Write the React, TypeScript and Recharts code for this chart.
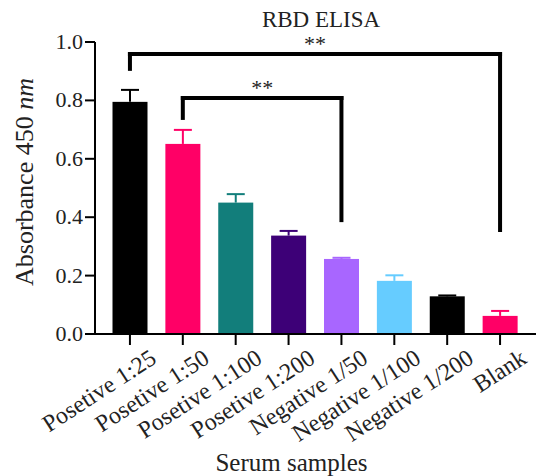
import { BarChart, Bar, XAxis, YAxis, ReferenceLine } from 'recharts'

const categories = [
    'Posetive 1:25',
    'Posetive 1:50',
    'Posetive 1:100',
    'Posetive 1:200',
    'Negative 1/50',
    'Negative 1/100',
    'Negative 1/200',
    'Blank',
]
const means = [0.795, 0.651, 0.45, 0.337, 0.257, 0.182, 0.129, 0.062]
const errors = [0.041, 0.048, 0.029, 0.016, 0.004, 0.019, 0.003, 0.017]
const yTicks = [0, 0.2, 0.4, 0.6, 0.8, 1.0]

// significance brackets: from / to category, bracket top, and where each leg stops
const brackets = [
    { from: 0, to: 7, top: 0.959, leftEnd: 0.908, rightEnd: 0.356, mark: '**' },
    { from: 1, to: 4, top: 0.808, leftEnd: 0.74, rightEnd: 0.39, mark: '**' },
]

const BAR_COLORS = ['#000000', '#FF0066', '#127E7B', '#3D0077', '#A866FF', '#66CCFF', '#000000', '#FF0066']
const FONT = '"Liberation Serif", "Times New Roman", serif'
const TEXT = '#222'

const data = categories.map((name, i) => ({ name, mean: means[i], err: errors[i] }))

function BarWithError(props: any) {
    const { x, y, width, height, index, payload } = props
    const color = BAR_COLORS[index]
    const errPx = payload.mean > 0 ? (payload.err * height) / payload.mean : 0
    const cx = x + width / 2
    return (
        <g>
            <line x1={cx} x2={cx} y1={y} y2={y - errPx} stroke={color} strokeWidth={2} />
            <line x1={cx - 9} x2={cx + 9} y1={y - errPx} y2={y - errPx} stroke={color} strokeWidth={2} />
            <rect x={x} y={y} width={width} height={height} fill={color} />
        </g>
    )
}

function XTick({ x, y, payload }: any) {
    const ax = x + 28
    const ay = y + 17
    return (
        <text
            x={ax}
            y={ay}
            textAnchor="end"
            transform={`rotate(-33 ${ax} ${ay})`}
            fontSize={24}
            fontFamily={FONT}
            fill={TEXT}
        >
            {payload.value}
        </text>
    )
}

function YTick({ x, y, payload }: any) {
    return (
        <text x={x} y={y + 7} textAnchor="end" fontSize={22} fontFamily={FONT} fill={TEXT}>
            {payload.value.toFixed(1)}
        </text>
    )
}

function XLabel({ viewBox }: any) {
    return (
        <text
            x={viewBox.x + viewBox.width / 2 - 24}
            y={viewBox.y + 137}
            textAnchor="middle"
            fontSize={25}
            fontFamily={FONT}
            fill={TEXT}
        >
            Serum samples
        </text>
    )
}

function YLabel({ viewBox }: any) {
    const lx = viewBox.x + 33
    const ly = viewBox.y + viewBox.height / 2 - 6
    return (
        <text
            x={lx}
            y={ly}
            textAnchor="middle"
            transform={`rotate(-90 ${lx} ${ly})`}
            fontSize={26}
            fontFamily={FONT}
            fill={TEXT}
        >
            <tspan>Absorbance 450 </tspan>
            <tspan fontStyle="italic">nm</tspan>
        </text>
    )
}

const lineStyle = { stroke: '#000', strokeWidth: 4, strokeLinecap: 'square' as const }

export default function App() {
    return (
        <div style={{ position: 'absolute', left: 0, top: 0, width: 536, height: 476, background: '#fff' }}>
            <div
                style={{
                    position: 'absolute',
                    left: 221,
                    top: 8,
                    width: 200,
                    textAlign: 'center',
                    fontFamily: FONT,
                    fontSize: 23,
                    lineHeight: '23px',
                    color: TEXT,
                }}
            >
                RBD ELISA
            </div>
            <BarChart
                width={536}
                height={476}
                data={data}
                margin={{ top: 42, right: 0, bottom: 0, left: 0 }}
            >
                <XAxis
                    dataKey="name"
                    interval={0}
                    height={142}
                    padding={{ left: 8.5, right: 9.5 }}
                    axisLine={{ stroke: '#000', strokeWidth: 2 }}
                    tickLine={{ stroke: '#000', strokeWidth: 2 }}
                    tickSize={11}
                    tickMargin={0}
                    tick={<XTick />}
                    label={XLabel}
                />
                <YAxis
                    width={95}
                    domain={[0, 1]}
                    ticks={yTicks}
                    interval={0}
                    axisLine={{ stroke: '#000', strokeWidth: 2 }}
                    tickLine={{ stroke: '#000', strokeWidth: 2 }}
                    tickSize={10}
                    tickMargin={2}
                    tick={<YTick />}
                    label={YLabel}
                />
                <Bar dataKey="mean" barSize={35} isAnimationActive={false} shape={<BarWithError />} />
                {brackets.map((b, i) => (
                    <ReferenceLine
                        key={`h${i}`}
                        segment={[
                            { x: categories[b.from], y: b.top },
                            { x: categories[b.to], y: b.top },
                        ]}
                        {...lineStyle}
                        label={{ value: b.mark, position: 'top', offset: 3, fontSize: 22, fontFamily: FONT, fill: TEXT }}
                    />
                ))}
                {brackets.map((b, i) => (
                    <ReferenceLine
                        key={`l${i}`}
                        segment={[
                            { x: categories[b.from], y: b.top },
                            { x: categories[b.from], y: b.leftEnd },
                        ]}
                        {...lineStyle}
                    />
                ))}
                {brackets.map((b, i) => (
                    <ReferenceLine
                        key={`r${i}`}
                        segment={[
                            { x: categories[b.to], y: b.top },
                            { x: categories[b.to], y: b.rightEnd },
                        ]}
                        {...lineStyle}
                    />
                ))}
            </BarChart>
        </div>
    )
}
